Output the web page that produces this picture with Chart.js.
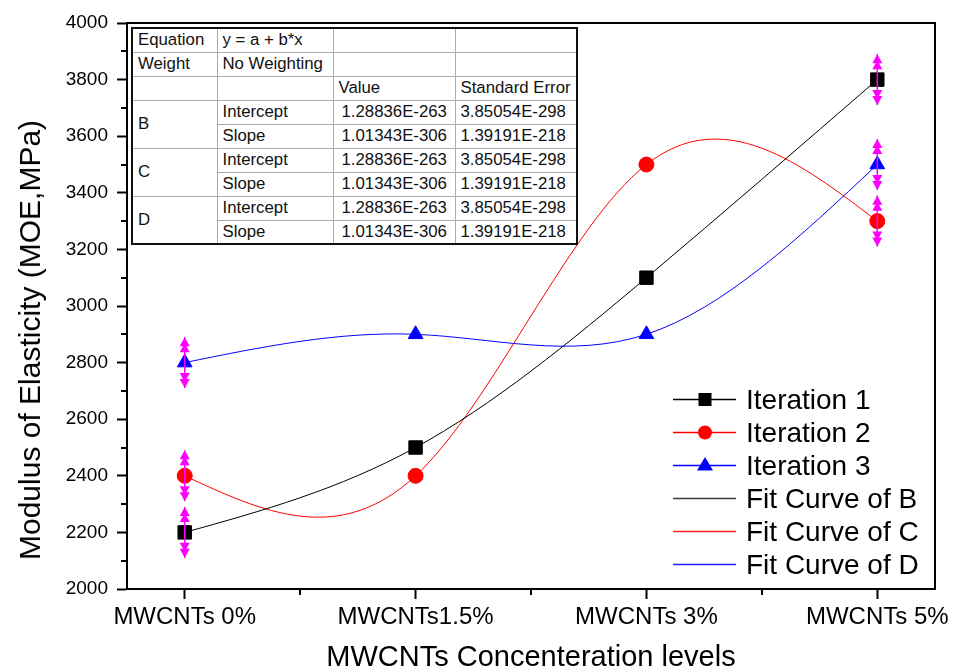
<!DOCTYPE html>
<html><head><meta charset="utf-8">
<script src="https://cdn.jsdelivr.net/npm/chart.js@4.4.0/dist/chart.umd.min.js"></script>
<style>
html,body{margin:0;padding:0;background:#fff;}
#wrap{position:relative;width:954px;height:672px;overflow:hidden;font-family:'Liberation Sans',Arial,sans-serif;background:#fff;}
#c{position:absolute;left:0;top:0;}
#tbl{position:absolute;left:131px;top:27px;border-collapse:collapse;table-layout:fixed;border:2px solid #111;background:#fff;font-size:16.8px;color:#111;}
#tbl td{border:1px solid #aaa;padding:0 0 0 5px;white-space:nowrap;overflow:hidden;vertical-align:middle;}
#tbl tr{height:24px;}
#tbl td.num{padding-left:8px;}
#legend{position:absolute;left:673px;top:383px;font-size:28px;color:#000;}
#legend .row{height:33px;line-height:33px;display:flex;align-items:center;white-space:nowrap;}
#legend svg{width:63px;height:33px;margin-right:10px;flex:none;}
#ytitle{position:absolute;left:30px;top:340px;transform:translate(-50%,-50%) rotate(-90deg);font-size:30px;white-space:nowrap;color:#000;line-height:1;}
</style>
</head><body>
<div id="wrap">
<canvas id="c" width="954" height="672"></canvas>
<div id="ytitle"></div>
<table id="tbl"><colgroup><col style="width:85px"><col style="width:116px"><col style="width:122px"><col style="width:122px"></colgroup><tbody id="tbody"></tbody></table>
<div id="legend"></div>
</div>
<script>
// ---- data ----
const categories = ['MWCNTs 0%', 'MWCNTs1.5%', 'MWCNTs 3%', 'MWCNTs 5%'];
const iteration1 = [2200, 2500, 3100, 3800];
const iteration2 = [2400, 2400, 3500, 3300];
const iteration3 = [2800, 2900, 2900, 3500];
const error1 = [90, 0, 0, 90];
const error2 = [90, 0, 0, 90];
const error3 = [90, 0, 0, 90];
const yMin = 2000, yMax = 4000, yStep = 200;
const seriesNames = ['Iteration 1', 'Iteration 2', 'Iteration 3'];
const fitNames = ['Fit Curve of B', 'Fit Curve of C', 'Fit Curve of D'];
const xTitle = 'MWCNTs Concenteration levels';
const yTitle = 'Modulus of Elasticity (MOE,MPa)';

// table contents
const headerRows = [
  ['Equation', 'y = a + b*x', '', ''],
  ['Weight', 'No Weighting', '', ''],
  ['', '', 'Value', 'Standard Error']
];
const fitGroups = ['B', 'C', 'D'];
const paramNames = ['Intercept', 'Slope'];
const paramValues = ['1.28836E-263', '1.01343E-306'];
const paramErrors = ['3.85054E-298', '1.39191E-218'];

// ---- styles ----
const colors = ['#000000', '#ff0000', '#0000ff'];
const fitColors = ['#000000', '#ff0000', '#0000ff'];
const legendFitColors = ['#3a3a3a', '#ff2020', '#2020ff'];
const pointStyles = ['rect', 'circle', 'triangle'];
const pointRadii = [9.5, 7.5, 8.5];
const errColor = '#ff00ff';

document.getElementById('ytitle').textContent = yTitle;

// ---- table ----
(function buildTable(){
  const tb = document.getElementById('tbody');
  let html = '';
  headerRows.forEach(r => { html += '<tr>' + r.map(c => '<td>' + c + '</td>').join('') + '</tr>'; });
  fitGroups.forEach(g => {
    paramNames.forEach((p, k) => {
      html += '<tr>' + (k === 0 ? '<td rowspan="2">' + g + '</td>' : '') +
        '<td>' + p + '</td><td class="num">' + paramValues[k] + '</td><td>' + paramErrors[k] + '</td></tr>';
    });
  });
  tb.innerHTML = html;
})();

// ---- legend ----
(function buildLegend(){
  const lg = document.getElementById('legend');
  let html = '';
  seriesNames.forEach((n, i) => {
    let m = '';
    if (pointStyles[i] === 'rect') m = '<rect x="25.5" y="10" width="13" height="13" fill="' + colors[i] + '"/>';
    else if (pointStyles[i] === 'circle') m = '<circle cx="32" cy="16.5" r="7" fill="' + colors[i] + '"/>';
    else m = '<polygon points="32,8 40,21.5 24,21.5" fill="' + colors[i] + '"/>';
    html += '<div class="row"><svg viewBox="0 0 63 33"><line x1="0" y1="16.5" x2="63" y2="16.5" stroke="' + colors[i] + '" stroke-width="1.5"/>' + m + '</svg><span>' + n + '</span></div>';
  });
  fitNames.forEach((n, i) => {
    html += '<div class="row"><svg viewBox="0 0 63 33"><line x1="0" y1="16.5" x2="63" y2="16.5" stroke="' + legendFitColors[i] + '" stroke-width="1.5"/></svg><span>' + n + '</span></div>';
  });
  lg.innerHTML = html;
})();

// ---- chart ----
Chart.defaults.font.family = "'Liberation Sans', Arial, sans-serif";
Chart.defaults.color = '#000';

const seriesValues = [iteration1, iteration2, iteration3];
const seriesErrors = [error1, error2, error3];
const toXY = arr => arr.map((v, i) => ({x: i, y: v}));

const datasets = [];
seriesValues.forEach((vals, i) => {
  datasets.push({
    label: seriesNames[i], data: toXY(vals), showLine: false,
    pointStyle: pointStyles[i], pointRadius: pointRadii[i],
    pointBackgroundColor: colors[i], pointBorderColor: colors[i], pointBorderWidth: 1,
    borderColor: colors[i], backgroundColor: colors[i]
  });
});
seriesValues.forEach((vals, i) => {
  datasets.push({
    label: fitNames[i], data: toXY(vals), showLine: true, pointRadius: 0,
    borderColor: fitColors[i], borderWidth: 1, tension: 0.4, fill: false,
    naturalSpline: true
  });
});

// slopes of a natural cubic spline through equally spaced values (unit spacing)
function naturalSplineSlopes(vals) {
  const n = vals.length;
  const M = new Array(n).fill(0);
  if (n > 2) {
    const a = [], b = [], c = [], d = [];
    for (let i = 1; i < n - 1; i++) { a.push(1); b.push(4); c.push(1); d.push(6 * (vals[i - 1] - 2 * vals[i] + vals[i + 1])); }
    const m = d.length;
    for (let i = 1; i < m; i++) { const w = a[i] / b[i - 1]; b[i] -= w * c[i - 1]; d[i] -= w * d[i - 1]; }
    const sol = new Array(m);
    sol[m - 1] = d[m - 1] / b[m - 1];
    for (let i = m - 2; i >= 0; i--) sol[i] = (d[i] - c[i] * sol[i + 1]) / b[i];
    for (let i = 0; i < m; i++) M[i + 1] = sol[i];
  }
  const s = [];
  for (let i = 0; i < n; i++) {
    if (i < n - 1) s.push((vals[i + 1] - vals[i]) - (2 * M[i] + M[i + 1]) / 6);
    else s.push((vals[i] - vals[i - 1]) + (M[i - 1] + 2 * M[i]) / 6);
  }
  return s;
}

const splinePlugin = {
  id: 'natspline',
  beforeDatasetDraw(chart, args) {
    const ds = chart.data.datasets[args.index];
    if (!ds.naturalSpline) return;
    const meta = args.meta;
    const line = meta.dataset;
    if (line && line.updateControlPoints) line.updateControlPoints(chart.chartArea, 'x');
    const xs = chart.scales.x, ys = chart.scales.y;
    const vals = ds.data.map(p => p.y);
    const sl = naturalSplineSlopes(vals);
    meta.data.forEach((pt, i) => {
      pt.cp1x = xs.getPixelForValue(i - 1 / 3); pt.cp1y = ys.getPixelForValue(vals[i] - sl[i] / 3);
      pt.cp2x = xs.getPixelForValue(i + 1 / 3); pt.cp2y = ys.getPixelForValue(vals[i] + sl[i] / 3);
    });
    if (line) line._path = undefined;
  }
};

const decorPlugin = {
  id: 'decor',
  beforeDatasetsDraw(chart) {
    const {ctx, chartArea: a, scales: {x, y}} = chart;
    ctx.save();
    ctx.strokeStyle = '#000';
    ctx.lineWidth = 2;
    ctx.beginPath();
    ctx.moveTo(a.left, a.top); ctx.lineTo(a.right, a.top); ctx.lineTo(a.right, a.bottom);
    ctx.stroke();
    ctx.beginPath();
    for (let v = yMin + yStep / 2; v < yMax; v += yStep) {
      const py = Math.round(y.getPixelForValue(v));
      ctx.moveTo(a.left, py); ctx.lineTo(a.left - 6, py);
    }
    for (let k = 0; k < categories.length - 1; k++) {
      const px = Math.round(x.getPixelForValue(k + 0.5));
      ctx.moveTo(px, a.bottom); ctx.lineTo(px, a.bottom + 6);
    }
    ctx.stroke();
    ctx.restore();
  },
  afterDatasetsDraw(chart) {
    const {ctx, scales: {x, y}} = chart;
    ctx.save();
    ctx.strokeStyle = errColor; ctx.fillStyle = errColor; ctx.lineWidth = 1.5;
    const head = (px, tip, dir) => {
      for (const off of [0, 6]) {
        const t = tip - dir * off;
        ctx.beginPath();
        ctx.moveTo(px, t);
        ctx.lineTo(px - 5, t - dir * 9);
        ctx.lineTo(px + 5, t - dir * 9);
        ctx.closePath(); ctx.fill();
      }
    };
    seriesValues.forEach((vals, i) => {
      vals.forEach((v, j) => {
        const e = seriesErrors[i][j];
        if (!e) return;
        const px = x.getPixelForValue(j);
        const yt = y.getPixelForValue(v + e);
        const yb = y.getPixelForValue(v - e);
        ctx.beginPath(); ctx.moveTo(px, yt); ctx.lineTo(px, yb); ctx.stroke();
        head(px, yt, -1);
        head(px, yb, 1);
      });
    });
    ctx.restore();
  }
};

new Chart(document.getElementById('c'), {
  type: 'line',
  data: {datasets},
  options: {
    responsive: false, animation: false, devicePixelRatio: 1,
    layout: {padding: {left: 0, right: 19, top: 23, bottom: 0}},
    plugins: {legend: {display: false}, tooltip: {enabled: false}},
    scales: {
      x: {
        type: 'linear', min: -0.25, max: 3.25,
        afterBuildTicks: s => { s.ticks = categories.map((_, i) => ({value: i})); },
        ticks: {callback: (v, i) => categories[i], font: {size: 24}, color: '#000', padding: 4, autoSkip: false, maxRotation: 0},
        grid: {drawOnChartArea: false, drawTicks: true, tickLength: 10, tickWidth: 2, tickColor: '#000'},
        border: {display: true, color: '#000', width: 2},
        title: {display: true, text: xTitle, font: {size: 29}, color: '#000', padding: {top: 0, bottom: -3}},
        afterFit: s => { s.height = 83; s.paddingLeft = 0; s.paddingRight = 0; }
      },
      y: {
        min: yMin, max: yMax,
        ticks: {stepSize: yStep, font: {size: 19}, color: '#000', padding: 9, callback: v => String(v)},
        grid: {drawOnChartArea: false, drawTicks: true, tickLength: 10, tickWidth: 2, tickColor: '#000'},
        border: {display: true, color: '#000', width: 2},
        title: {display: false, text: yTitle},
        afterFit: s => { s.width = 127; s.paddingTop = 0; s.paddingBottom = 0; }
      }
    }
  },
  plugins: [splinePlugin, decorPlugin]
});
</script>
</body></html>
